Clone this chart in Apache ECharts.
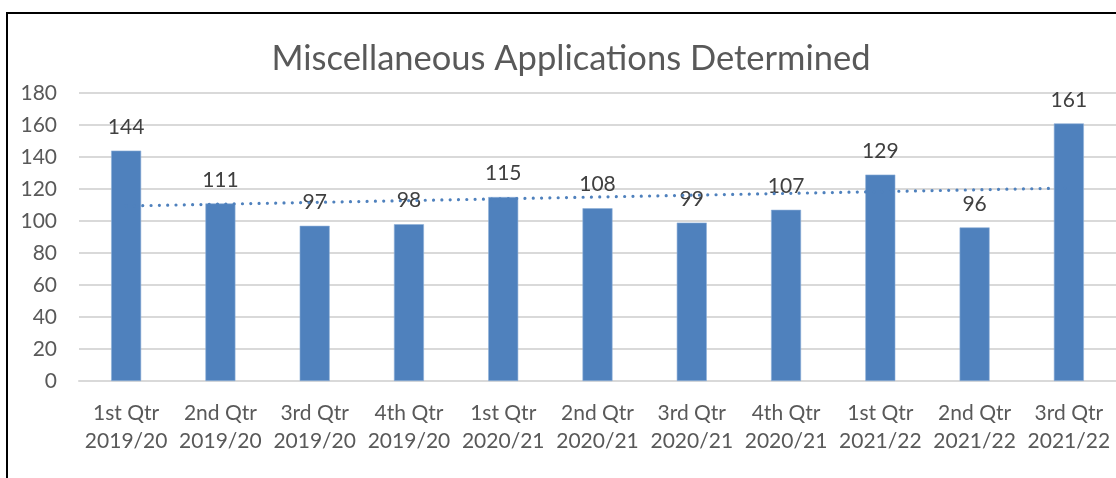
<!DOCTYPE html>
<html>
<head>
<meta charset="utf-8">
<script src="https://cdn.jsdelivr.net/npm/echarts@6/dist/echarts.min.js"></script>
<style>
  html, body { margin: 0; padding: 0; background: #fff; }
  #chart { width: 1116px; height: 478px; }
</style>
</head>
<body>
<div id="chart"></div>
<script>
// quarters (x axis)
var quarters = [
  "1st Qtr\n2019/20", "2nd Qtr\n2019/20", "3rd Qtr\n2019/20", "4th Qtr\n2019/20",
  "1st Qtr\n2020/21", "2nd Qtr\n2020/21", "3rd Qtr\n2020/21", "4th Qtr\n2020/21",
  "1st Qtr\n2021/22", "2nd Qtr\n2021/22", "3rd Qtr\n2021/22"
];
// applications determined per quarter
var determined = [144, 111, 97, 98, 115, 108, 99, 107, 129, 96, 161];
// dotted linear trend, ends
var trendEnds = [109.4, 120.6];

var font = "Lato, 'Open Sans', sans-serif";
var chart = echarts.init(document.getElementById("chart"));

var option = {
  animation: false,
  title: {
    text: "Miscellaneous Applications Determined",
    left: 566,
    textAlign: "center",
    top: 36,
    textStyle: { fontFamily: font, fontSize: 34.5, fontWeight: "normal", color: "#595959" }
  },
  grid: { left: 79, right: 0, top: 93, bottom: 97 },
  xAxis: {
    type: "category",
    data: quarters,
    axisLine: { show: true, lineStyle: { color: "#d9d9d9", width: 2 } },
    axisTick: { show: false },
    axisLabel: {
      fontFamily: font, fontSize: 21, color: "#595959",
      lineHeight: 28, margin: 18, interval: 0
    }
  },
  yAxis: {
    type: "value",
    min: 0, max: 180, interval: 20,
    axisLine: { show: false },
    axisTick: { show: false },
    splitLine: { lineStyle: { color: "#d9d9d9", width: 2 } },
    axisLabel: { fontFamily: font, fontSize: 21, color: "#595959", margin: 22 }
  },
  series: [
    {
      // trend sits behind the bars
      type: "line",
      z: 1,
      data: [],
      silent: true,
      markLine: {
        symbol: "none",
        silent: true,
        label: { show: false },
        lineStyle: { color: "#4f81bd", type: [0.01, 8.3], width: 3.2, cap: "round" },
        data: [[
          { coord: [quarters[0], trendEnds[0]] },
          { coord: [quarters[quarters.length - 1], trendEnds[1]] }
        ]]
      }
    },
    {
      type: "bar",
      z: 3,
      data: determined,
      barWidth: 30,
      itemStyle: { color: "#4f81bd", borderColor: "#8fb0d8", borderWidth: 0.6 },
      label: {
        show: true, position: "top", distance: 13,
        fontFamily: font, fontSize: 21, color: "#404040"
      }
    }
  ],
  graphic: [
    {
      type: "rect",
      z: 100,
      shape: { x: 7, y: 13, width: 1200, height: 600 },
      style: { fill: "none", stroke: "#000", lineWidth: 2 }
    }
  ]
};
chart.setOption(option);
</script>
</body>
</html>
